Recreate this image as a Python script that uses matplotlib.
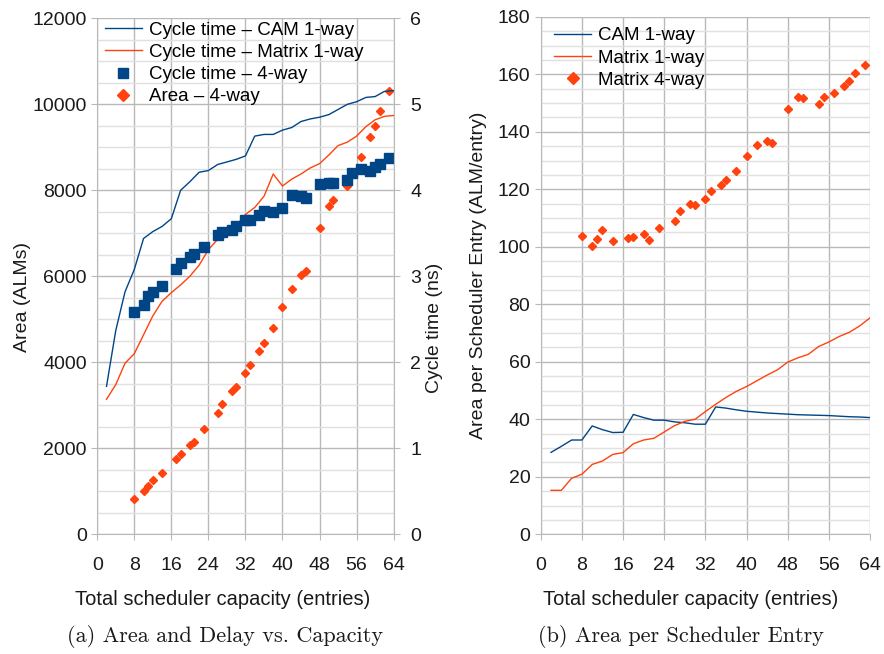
import matplotlib
matplotlib.use('Agg')
import matplotlib.pyplot as plt
from matplotlib.ticker import MultipleLocator

plt.rcParams['font.family'] = ['Liberation Sans', 'DejaVu Sans']

BLUE, ORANGE = '#004586', '#ff420e'
GRID_MAJ, GRID_MIN = '#b9b9b9', '#e0e0e0'
TXT = '#1a1a1a'

# 1-way schedulers, sampled every 2 entries
entries_1way = list(range(2, 65, 2))
cycle_cam_1way = [1.72, 2.37, 2.82, 3.08, 3.44, 3.52, 3.58, 3.67, 4.00, 4.10, 4.21, 4.23, 4.30, 4.33, 4.36, 4.40,
                  4.63, 4.65, 4.65, 4.70, 4.73, 4.80, 4.83, 4.85, 4.88, 4.94, 5.00, 5.03, 5.08, 5.09, 5.15, 5.16]
cycle_matrix_1way = [1.57, 1.74, 1.99, 2.10, 2.32, 2.54, 2.71, 2.81, 2.90, 3.00, 3.13, 3.31, 3.43, 3.53, 3.59, 3.72,
                     3.80, 3.93, 4.19, 4.05, 4.13, 4.19, 4.26, 4.31, 4.41, 4.52, 4.56, 4.63, 4.74, 4.82, 4.86, 4.87]
per_entry_cam_1way = [28.5, 30.6, 32.8, 32.8, 37.7, 36.4, 35.4, 35.5, 41.7, 40.6, 39.7, 39.7, 39.1, 38.8, 38.3, 38.3,
                      44.3, 43.9, 43.3, 42.8, 42.5, 42.2, 42.0, 41.8, 41.6, 41.5, 41.4, 41.3, 41.1, 40.9, 40.8, 40.6]
per_entry_matrix_1way = [15.3, 15.3, 19.5, 20.9, 24.3, 25.5, 27.8, 28.4, 31.5, 32.8, 33.4, 35.6, 37.8, 39.3, 40.0, 42.7,
                         45.2, 47.6, 49.7, 51.4, 53.4, 55.4, 57.2, 59.9, 61.4, 62.6, 65.3, 66.9, 68.8, 70.3, 72.5, 75.3]

# 4-way matrix scheduler
entries_4way = [8, 10, 11, 12, 14, 17, 18, 20, 21, 23, 26, 27, 29, 30, 32, 33, 35, 36, 38, 40, 42, 44, 45,
                48, 50, 51, 54, 55, 57, 59, 60, 61, 63]
cycle_4way = [2.58, 2.67, 2.77, 2.82, 2.89, 3.09, 3.15, 3.23, 3.26, 3.34, 3.48, 3.51, 3.54, 3.58, 3.65, 3.65, 3.71,
              3.76, 3.75, 3.80, 3.94, 3.93, 3.91, 4.07, 4.08, 4.09, 4.12, 4.20, 4.25, 4.23, 4.27, 4.31, 4.37]
area_4way = [828, 1007, 1123, 1263, 1433, 1752, 1861, 2077, 2140, 2449, 2829, 3038, 3341, 3433, 3745, 3938, 4264,
             4457, 4806, 5280, 5699, 6031, 6124, 7132, 7644, 7776, 8101, 8386, 8783, 9234, 9504, 9839, 10318]
per_entry_4way = [103.9, 100.4, 102.6, 105.8, 101.9, 103.1, 103.4, 104.3, 102.3, 106.4, 108.9, 112.3, 114.9, 114.6,
                  116.7, 119.3, 121.6, 123.2, 126.3, 131.6, 135.3, 136.9, 136.0, 148.0, 152.2, 151.8, 149.7, 152.2,
                  153.6, 155.9, 157.8, 160.6, 163.2]

x_ticks = list(range(0, 65, 8))
FS = 14


def style(ax, ymaj, ymin):
    ax.set_xlim(0, 64)
    ax.set_xticks(x_ticks)
    ax.yaxis.set_major_locator(MultipleLocator(ymaj))
    ax.yaxis.set_minor_locator(MultipleLocator(ymin))
    ax.grid(True, which='major', color=GRID_MAJ, lw=1.0)
    ax.grid(True, which='minor', axis='y', color=GRID_MIN, lw=1.0)
    ax.set_axisbelow(True)
    for s in ['top', 'right']:
        ax.spines[s].set_visible(False)
    for s in ['left', 'bottom']:
        ax.spines[s].set_color(GRID_MAJ)
    ax.tick_params(which='major', length=4, color=GRID_MAJ, labelsize=FS, labelcolor=TXT)
    ax.tick_params(which='minor', length=0)
    ax.tick_params(axis='x', pad=12)


fig = plt.figure(figsize=(8.84, 6.54), dpi=100)

# (a) area and cycle time
ax = fig.add_axes([0.110, 0.183, 0.3353, 0.789])
style(ax, 2000, 500)
ax.set_ylim(0, 12000)
ax.plot(entries_4way, area_4way, ls='none', marker='D', ms=4.5, color=ORANGE, mec=ORANGE, zorder=3)
ax.set_ylabel('Area (ALMs)', fontsize=FS, color=TXT)
ax.yaxis.set_label_coords(-0.222, 0.46)
ax.set_xlabel('Total scheduler capacity (entries)', fontsize=14.5, color=TXT)
ax.xaxis.set_label_coords(0.424, -0.108)

ax2 = ax.twinx()
ax2.set_ylim(0, 6)
ax2.set_xlim(0, 64)
ax2.yaxis.set_major_locator(MultipleLocator(1))
for s in ['top', 'left', 'bottom']:
    ax2.spines[s].set_visible(False)
ax2.spines['right'].set_color(GRID_MAJ)
ax2.tick_params(length=4, color=GRID_MAJ, labelsize=FS, labelcolor=TXT, pad=8)
l1, = ax2.plot(entries_1way, cycle_cam_1way, color=BLUE, lw=1.0)
l2, = ax2.plot(entries_1way, cycle_matrix_1way, color=ORANGE, lw=1.0)
l3, = ax2.plot(entries_4way, cycle_4way, ls='none', marker='s', ms=6.5, color=BLUE, mec=BLUE)
l4, = ax.plot([], [], ls='none', marker='D', ms=6.5, color=ORANGE)
ax2.set_ylabel('Cycle time (ns)', fontsize=FS, color=TXT)
ax2.yaxis.set_label_coords(1.11, 0.40)
ax2.legend([l1, l2, l3, l4],
           ['Cycle time \u2013 CAM 1-way', 'Cycle time \u2013 Matrix 1-way',
            'Cycle time \u2013 4-way', 'Area \u2013 4-way'],
           loc='upper left', bbox_to_anchor=(0.0, 1.008), frameon=False, fontsize=13.5,
           handlelength=2.0, handletextpad=0.35, labelspacing=0.27, borderaxespad=0.1, borderpad=0.3)

# (b) area per entry
bx = fig.add_axes([0.6117, 0.183, 0.3725, 0.7913])
style(bx, 20, 5)
bx.set_ylim(0, 180)
bx.plot(entries_1way, per_entry_cam_1way, color=BLUE, lw=1.0, label='CAM 1-way')
bx.plot(entries_1way, per_entry_matrix_1way, color=ORANGE, lw=1.0, label='Matrix 1-way')
bx.plot(entries_4way, per_entry_4way, ls='none', marker='D', ms=4.5, color=ORANGE, label='Matrix 4-way')
bx.set_ylabel('Area per Scheduler Entry (ALM/entry)', fontsize=FS, color=TXT)
bx.yaxis.set_label_coords(-0.162, 0.5)
bx.set_xlabel('Total scheduler capacity (entries)', fontsize=14.5, color=TXT)
bx.xaxis.set_label_coords(0.456, -0.108)
bx.legend(loc='upper left', bbox_to_anchor=(0.0, 1.005), frameon=False, fontsize=13.5, markerscale=1.45,
          handlelength=2.0, handletextpad=0.35, labelspacing=0.27, borderaxespad=0.4, borderpad=0.3)

fig.text(225 / 884, 1 - 636 / 654, '(a) Area and Delay vs. Capacity', family='cmr10', fontsize=16,
         ha='center', va='center', color=TXT)
fig.text(681 / 884, 1 - 636 / 654, '(b) Area per Scheduler Entry', family='cmr10', fontsize=16,
         ha='center', va='center', color=TXT)

fig.savefig('out.png', dpi=100)
